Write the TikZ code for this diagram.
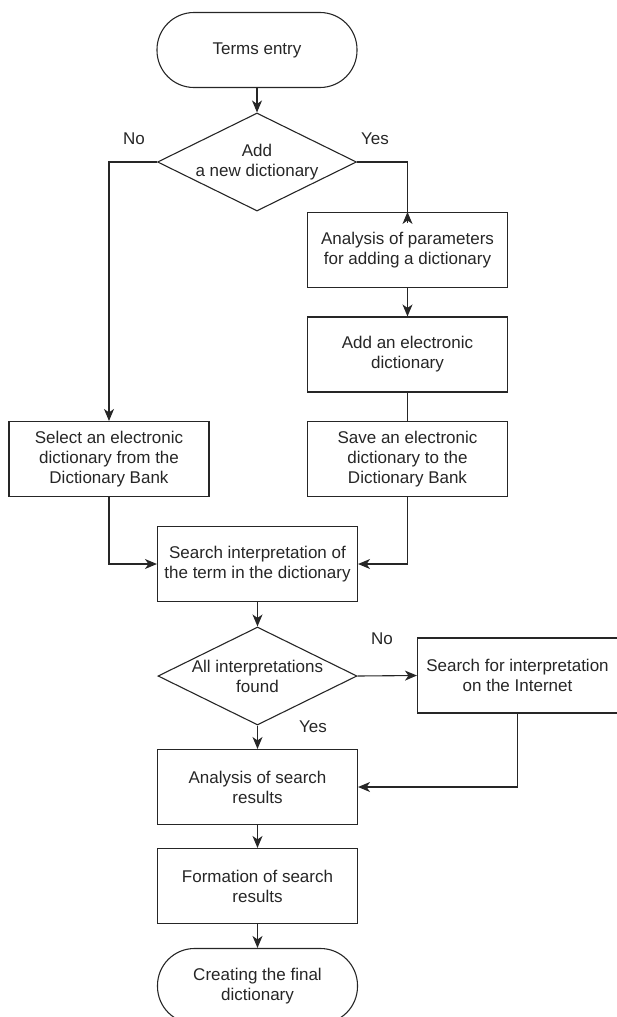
\documentclass[tikz,border=0pt]{standalone}
\usepackage{fontspec}
\setmainfont{Liberation Sans}
\usetikzlibrary{shapes.geometric,arrows.meta}

\begin{document}
\begin{tikzpicture}[x=1pt,y=-1pt,line width=1.1pt,color=black!85,
  every node/.style={font=\fontsize{17}{20}\selectfont},
  box/.style={draw,minimum width=200pt,minimum height=75pt,inner sep=0pt,align=center},
  term/.style={box,rounded corners=37pt},
  decision/.style={draw,diamond,minimum width=199pt,minimum height=98pt,inner sep=0pt},
  arr/.style={-{Stealth[length=12pt,width=10pt,inset=3.5pt]}},
  lbl/.style={inner sep=0pt}]
\useasboundingbox (0,0) rectangle (616,1017);

% start and first decision
\node[term] (entry) at (257,50) {Terms entry};
\node[decision,label={[align=center]center:Add\\a new dictionary}] (adddec) at (257,162) {};
\node[lbl] (no1) at (134,139) {No};
\node[lbl] (yes1) at (375,139) {Yes};

% right branch
\node[box] (params) at (407.5,250) {Analysis of parameters\\for adding a dictionary};
\node[box] (adddict) at (407.5,354.5) {Add an electronic\\dictionary};
\node[box] (savedict) at (407.5,459) {Save an electronic\\dictionary to the\\Dictionary Bank};

% left branch
\node[box] (select) at (109,459) {Select an electronic\\dictionary from the\\Dictionary Bank};

% search part
\node[box] (search) at (257.5,564) {Search interpretation of\\the term in the dictionary};
\node[decision,label={[align=center]center:All interpretations\\found}] (founddec) at (257.5,676) {};
\node[lbl] (no2) at (382,639) {No};
\node[lbl] (yes2) at (313,727) {Yes};
\node[box] (internet) at (517.5,675.5) {Search for interpretation\\on the Internet};
\node[box] (results) at (257.5,787) {Analysis of search\\results};
\node[box] (formation) at (257.5,886) {Formation of search\\results};
\node[term] (final) at (257.5,986) {Creating the final\\dictionary};

% connectors
\draw[arr] (entry) -- (adddec);
\draw[arr] (adddec.west) -| (select.north);
\draw (adddec.east) -| (params.north);
\draw[arr] ([yshift=-11pt]params.north) -- (params.north);
\draw[arr] (params) -- (adddict);
\draw (adddict) -- (savedict);
\draw[arr] (select.south) |- (search.west);
\draw[arr] (savedict.south) |- (search.east);
\draw[arr] (search) -- (founddec);
\draw[arr] (founddec.east) -- (internet.west);
\draw[arr] (founddec.south) -- (results.north);
\draw[arr] (internet.south) |- (results.east);
\draw[arr] (results) -- (formation);
\draw[arr] (formation) -- (final);
\end{tikzpicture}
\end{document}
